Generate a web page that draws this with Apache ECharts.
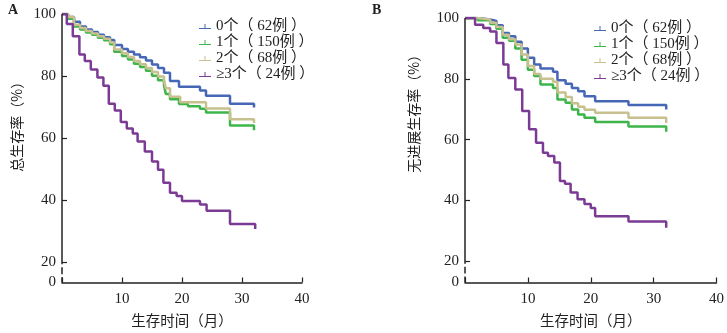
<!DOCTYPE html>
<html>
<head>
<meta charset="utf-8">
<script src="https://cdn.jsdelivr.net/npm/echarts@6/dist/echarts.min.js"></script>
<style>
  html, body { margin: 0; padding: 0; background: #fff; }
  #chart { width: 727px; height: 333px; }
</style>
</head>
<body>
<div id="chart"></div>
<script>
const groups = ['0个（ 62例 ）', '1个（ 150例 ）', '2个（ 68例 ）', '≥3个（ 24例 ）'];
const colors = ['#4666b6', '#3db54a', '#c8c08e', '#7b3b94'];
const xTicks = [0, 10, 20, 30, 40];
const yTicks = [20, 40, 60, 80, 100];

// A: overall survival, [month, %]
const osZero = [[0,100],[1,99],[2,97.5],[3,96],[4,95],[5,94.2],[6,93.3],[7,92.5],[8,91.6],[8.7,90],[10,88.7],[11,87.8],[12,86.9],[13,86],[14,85],[15,83.7],[16,82.6],[17,81],[18,78.4],[19.5,76.5],[23,75.3],[24,73.6],[28,71],[32,71],[32,69.8]];
const osOne = [[0,100],[1,98.5],[2,96],[3,95],[4,94],[5,93.3],[6,92.3],[7,91.5],[8,90.2],[8.7,87.8],[10,86.4],[11,85.3],[12,83.9],[13,82.9],[14,81.7],[15,80.1],[16,78.6],[17,77],[17.3,74.2],[18,72.5],[19.5,70.9],[21,70.2],[23,69.4],[24,68.2],[28,64],[32,64],[32,62.5]];
const osTwo = [[0,100],[1,99],[2,96.5],[3,95.5],[4,94.5],[5,93.7],[6,92.8],[7,92],[8,90.8],[8.7,88.5],[10,87.3],[11,86.1],[12,84.8],[13,83.8],[14,82.6],[15,81.3],[16,79.8],[17,78.5],[17.3,76],[18,73.3],[19.7,71.5],[24,69.5],[28,66],[32,66],[32,64.8]];
const osThree = [[0,100],[0.8,96.8],[1.8,92.8],[2.9,86.9],[3.8,84.8],[4.8,82.1],[5.9,79.5],[6.9,76.8],[7.8,71],[8.8,68.8],[9.8,65.1],[10.8,63],[11.8,61.4],[12.6,58.8],[13.8,55.6],[15,52.4],[16,49.7],[16.9,45.5],[18,42.3],[19.1,41.2],[20,39.6],[23,38.5],[24.1,36.5],[28,32.2],[32.2,32.2],[32.2,30.6]];

// B: progression-free survival, [month, %]
const pfsZero = [[0,100],[2,99.5],[4,99],[5,97.6],[6,95.1],[7,94],[8,92.2],[9,90],[10,86.9],[11,84.7],[12,83.4],[14,82.3],[14.7,79.5],[16,78.4],[17,77],[18,75.9],[19,74.3],[20.7,72.6],[26,71.4],[32,71.4],[32,69.9]];
const pfsOne = [[0,100],[2,99.3],[4,98],[5,96.5],[6,93.5],[7,92.5],[8,90],[9,86.3],[10,83],[11,80.9],[12,78.1],[14,77],[14.7,73.2],[16,72.1],[17,69.9],[18,68.3],[19,67.2],[20.7,65.8],[26,64.3],[32,64.3],[32,62.6]];
const pfsTwo = [[0,100],[2,99.5],[4,98.4],[5,97],[6,94.5],[7,93],[8,91.3],[9,88],[10,84.2],[11,81.6],[12,80],[14,79],[14.7,75.5],[16,74],[17,72],[18,70.8],[19,69.8],[20.7,68.8],[26,67.2],[32,67.2],[32,65.5]];
const pfsThree = [[0,100],[1.6,97.8],[2.9,96.7],[4,95.6],[5,91.8],[6.1,84.7],[6.9,80.3],[8,76.5],[9.1,69.4],[10.2,63.4],[11.3,59],[12.4,55.7],[13.2,54.6],[14.2,52.5],[15.1,46.4],[15.9,45.5],[16.8,42.6],[17.9,40.4],[19,38.8],[20,37.5],[20.7,34.8],[26,33.1],[32,33.1],[32,31]];

const panels = [
  { yName: '总生存率（%）', curves: [osZero, osOne, osTwo, osThree], yMin: 13.3, nameGap: 38, nameShift: 50 },
  { yName: '无进展生存率（%）', curves: [pfsZero, pfsOne, pfsTwo, pfsThree], yMin: 13, nameGap: 44, nameShift: 80 }
];

const serifFont = "'Liberation Serif', 'Noto Sans CJK SC', serif";
const cjkFont = "'Noto Sans CJK SC', sans-serif";
const ink = '#222';

const chart = echarts.init(document.getElementById('chart'));

const grids = [
  { left: 62, top: 14, width: 240, height: 272 },
  { left: 465, top: 18, width: 252, height: 265 }
];

const xAxes = panels.map((p, i) => ({
  type: 'value',
  gridIndex: i,
  min: 0,
  max: 40,
  interval: 10,
  name: '生存时间（月）',
  nameLocation: 'middle',
  nameGap: 31,
  nameTextStyle: { fontFamily: cjkFont, fontSize: 14.5, color: ink },
  axisLine: { lineStyle: { color: ink, width: 1.5 } },
  axisTick: { inside: true, length: 5, lineStyle: { color: ink, width: 1.2 } },
  axisLabel: {
    fontFamily: serifFont, fontSize: 15, color: ink, margin: 9,
    formatter: v => (v === xTicks[0] ? '' : String(v))
  },
  splitLine: { show: false }
}));

const yAxes = panels.map((p, i) => ({
  type: 'value',
  gridIndex: i,
  min: p.yMin,
  max: 100,
  name: p.yName,
  nameLocation: 'middle',
  nameRotate: 90,
  nameGap: p.nameGap,
  nameTextStyle: { fontFamily: cjkFont, fontSize: 14, color: ink, padding: [0, 0, 0, p.nameShift] },
  axisLine: { show: false },
  axisTick: { show: true, inside: true, length: 5, customValues: yTicks, lineStyle: { color: ink, width: 1.2 } },
  axisLabel: {
    fontFamily: serifFont, fontSize: 15, color: ink, margin: 6,
    customValues: [p.yMin].concat(yTicks),
    formatter: v => (v < yTicks[0] ? '0' : String(v))
  },
  splitLine: { show: false }
}));

const series = [];
panels.forEach((p, i) => {
  p.curves.forEach((data, g) => {
    series.push({
      name: groups[g],
      type: 'line',
      step: 'end',
      xAxisIndex: i,
      yAxisIndex: i,
      data: data,
      symbol: 'none',
      color: colors[g],
      lineStyle: { width: 2.5, color: colors[g] },
      z: 3
    });
  });
  // broken y axis line
  series.push({
    type: 'line',
    xAxisIndex: i,
    yAxisIndex: i,
    silent: true,
    symbol: 'none',
    connectNulls: false,
    data: [[0, p.yMin], [0, 15], [0, '-'], [0, 16], [0, 18.2], [0, '-'], [0, 19.2], [0, 100]],
    lineStyle: { color: ink, width: 1.5 },
    z: 4
  });
});

const legendIcon = 'path://M0,9h24v2h-24z M11,1h2v8h-2z';
const legendBase = {
  orient: 'vertical',
  data: groups,
  icon: legendIcon,
  itemWidth: 12,
  itemHeight: 6,
  itemGap: 1,
  selectedMode: false,
  textStyle: { fontFamily: serifFont, fontSize: 15, color: ink, lineHeight: 15 }
};

chart.setOption({
  animation: false,
  grid: grids,
  xAxis: xAxes,
  yAxis: yAxes,
  legend: [
    Object.assign({ left: 194, top: 14 }, legendBase),
    Object.assign({ left: 589, top: 16 }, legendBase)
  ],
  graphic: [
    { type: 'text', left: 8, top: 3, style: { text: 'A', fontFamily: serifFont, fontSize: 14, fontWeight: 'bold', fill: ink } },
    { type: 'text', left: 372, top: 3, style: { text: 'B', fontFamily: serifFont, fontSize: 14, fontWeight: 'bold', fill: ink } }
  ],
  series: series
});

window.addEventListener('resize', chart.resize);
</script>
</body>
</html>
